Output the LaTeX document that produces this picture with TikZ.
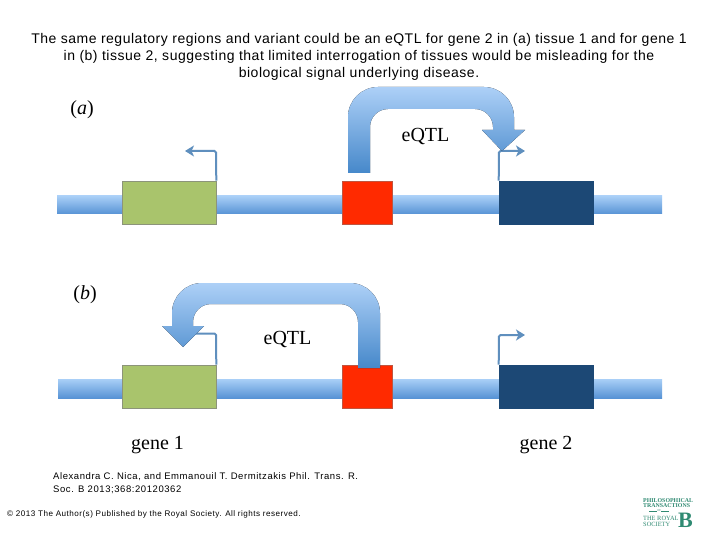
\documentclass[tikz,border=0pt]{standalone}
\usepackage{fontspec}
\setmainfont{Liberation Serif}
\newfontfamily\arialf{Liberation Sans}
\newfontfamily\arialw[LetterSpace=3.7]{Liberation Sans}
\newfontfamily\arialc[LetterSpace=6]{Liberation Sans}
\usetikzlibrary{arrows.meta}
\definecolor{barTop}{HTML}{A9CFF7}
\definecolor{barBot}{HTML}{5793D5}
\definecolor{arrTop}{HTML}{ADD0F7}
\definecolor{arrBot}{HTML}{4688CA}
\definecolor{greenbox}{HTML}{A9C46C}
\definecolor{redbox}{HTML}{FF2A00}
\definecolor{navybox}{HTML}{1C4875}
\definecolor{prom}{HTML}{5F8FBE}
\definecolor{logo}{HTML}{2F8A72}
\tikzset{
  genebar/.style={top color=barTop,bottom color=barBot,draw=none},
  loopshape/.style={top color=arrTop,bottom color=arrBot,draw=none},
  gbox/.style={draw=gray!70!greenbox,line width=.6pt,fill=#1,minimum width=94pt,minimum height=43pt,inner sep=0pt},
  rbox/.style={draw=gray!50!redbox,line width=.6pt,fill=redbox,minimum width=50pt,minimum height=43pt,inner sep=0pt},
  promoter/.style={draw=prom,line width=2pt,rounded corners=1.5pt},
  promarrow/.style={promoter,-{Stealth[length=9pt,width=11pt,inset=2.5pt]}},
  bigtext/.style={font=\fontsize{20}{20}\selectfont,inner sep=0pt},
  captext/.style={font=\arialc\fontsize{9.5}{12.5}\selectfont,inner sep=0pt,align=left,anchor=north west},
  logotext/.style={inner sep=0pt,text=logo,align=left,anchor=north west},
}
\begin{document}
\begin{tikzpicture}[x=1pt,y=-1pt]
\useasboundingbox (0,0) rectangle (720,540);
\fill[white] (0,0) rectangle (720,540);
\node[inner sep=0pt,align=center,font=\arialw\fontsize{14}{17}\selectfont] (title) at (359,56.5)
 {The same regulatory regions and variant could be an eQTL for gene 2 in (a) tissue 1 and for gene 1\\
  in (b) tissue 2, suggesting that limited interrogation of tissues would be misleading for the\\
  biological signal underlying disease.};

% panel a
\node[bigtext] (la) at (82,110) {(\textit{a})};
\fill[genebar] (57,196) rectangle (662,214);
\node[gbox=greenbox] (ga1) at (169,202.5) {};
\node[rbox] (ra) at (367,202.5) {};
\node[gbox=navybox,draw=navybox] (ga2) at (546,202.5) {};
\coordinate (ga1turn) at (216,151);
\coordinate (ga1end) at (185,151);
\coordinate (ga2turn) at (499,151);
\coordinate (ga2end) at (525,151);
\draw[promarrow] (ga1.north east) -- (ga1turn) -- (ga1end);
\draw[promarrow] (ga2.north west) -- (ga2turn) -- (ga2end);
\fill[loopshape] (348,173) -- (348,120) [rounded corners=30pt] -- (348,87) -- (514,87) [sharp corners] -- (514,130) -- (525,130) -- (502,151) -- (482,130) -- (493,130) [rounded corners=18pt] -- (493,109) -- (370,109) [sharp corners] -- (370,173) -- cycle;
\node[bigtext] (qa) at (425.5,137) {eQTL};

% panel b
\node[bigtext] (lb) at (85,295) {(\textit{b})};
\fill[genebar] (58,379) rectangle (662,398);
\node[gbox=greenbox] (gb1) at (169,386.5) {};
\node[rbox] (rb) at (367,386.5) {};
\node[gbox=navybox,draw=navybox] (gb2) at (546,386.5) {};
\coordinate (gb1turn) at (216,333.5);
\coordinate (gb1end) at (190,333.5);
\coordinate (gb2turn) at (499,335);
\coordinate (gb2end) at (525,335);
\draw[promoter] (gb1.north east) -- (gb1turn) -- (gb1end);
\draw[promarrow] (gb2.north west) -- (gb2turn) -- (gb2end);
\fill[loopshape] (380,368) -- (380,320) [rounded corners=30pt] -- (380,283) -- (172,283) [sharp corners] -- (172,326) -- (162,326) -- (183,347) -- (204,326) -- (193,326) [rounded corners=18pt] -- (193,304) -- (358,304) [sharp corners] -- (358,368) -- cycle;
\node[bigtext] (qb) at (287.5,339) {eQTL};
\node[bigtext] (g1) at (157.5,445) {gene 1};
\node[bigtext] (g2) at (546,445) {gene 2};

% captions
\node[captext] (auth) at (53,472.5) {Alexandra C. Nica, and Emmanouil T. Dermitzakis Phil. Trans. R.\\Soc. B 2013;368:20120362};
\node[captext,font=\arialc\fontsize{8.1}{9}\selectfont] (copy) at (7,510.5) {© 2013 The Author(s) Published by the Royal Society. All rights reserved.};

% publisher mark
\node[logotext,font=\fontsize{5.9}{5.2}\bfseries\selectfont] (lt) at (643,498) {PHILOSOPHICAL\\TRANSACTIONS};
\node[logotext,font=\fontsize{3}{3}\selectfont] (lo) at (657,509.5) {OF};
\node[logotext,font=\fontsize{6.4}{6}\selectfont] (lr) at (643,516) {THE ROYAL\\SOCIETY};
\draw[logo,line width=.4pt] (lo.west) ++(-8,0) -- (lo.west);
\draw[logo,line width=.4pt] (lo.east) -- ++(8,0);
\node[inner sep=0pt,text=logo,font=\fontsize{22}{22}\bfseries\selectfont] (lB) at (685.5,520) {B};
\end{tikzpicture}
\end{document}
